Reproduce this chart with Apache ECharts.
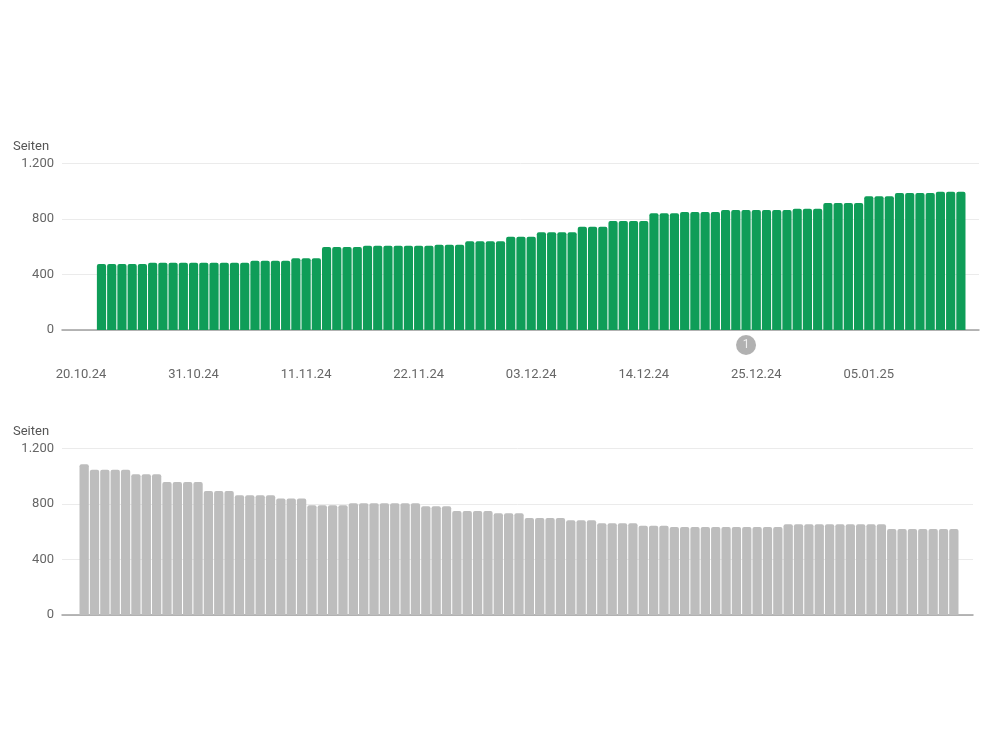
<!DOCTYPE html>
<html>
<head>
<meta charset="utf-8">
<script src="https://cdn.jsdelivr.net/npm/echarts@6/dist/echarts.min.js"></script>
<style>
  html, body { margin: 0; padding: 0; background: #fff; }
  #chart { width: 1000px; height: 750px; }
</style>
</head>
<body>
<div id="chart"></div>
<script>
// day offsets are counted from 20.10.24
const tickDays = [0, 11, 22, 33, 44, 55, 66, 77]
const tickLabels = ['20.10.24', '31.10.24', '11.11.24', '22.11.24', '03.12.24', '14.12.24', '25.12.24', '05.01.25']
const firstBarDay = 2 // 22.10.24
const axisTitle = 'Seiten'

// indexed pages (green)
const indexedPages = [
  475, 475, 475, 475, 475,
  485, 485, 485, 485, 485, 485, 485, 485, 485, 485,
  499, 499, 499, 499,
  516, 516, 516,
  598, 598, 598, 598,
  607, 607, 607, 607, 607, 607, 607,
  614, 614, 614,
  638, 638, 638, 638,
  672, 672, 672,
  703, 703, 703, 703,
  744, 744, 744,
  785, 785, 785, 785,
  840, 840, 840,
  849, 849, 849, 849,
  864, 864, 864, 864, 864, 864, 864,
  873, 873, 873,
  914, 914, 914, 914,
  962, 962, 962,
  986, 986, 986, 986,
  996, 996, 996
]

// not indexed pages (grey)
const notIndexedPages = [
  1085,
  1046, 1046, 1046, 1046,
  1013, 1013, 1013,
  957, 957, 957, 957,
  893, 893, 893,
  862, 862, 862, 862,
  838, 838, 838,
  790, 790, 790, 790,
  804, 804, 804, 804, 804, 804, 804,
  782, 782, 782,
  749, 749, 749, 749,
  732, 732, 732,
  698, 698, 698, 698,
  682, 682, 682,
  660, 660, 660, 660,
  643, 643, 643,
  634, 634, 634, 634, 634, 634, 634, 634, 634, 634, 634,
  653, 653, 653, 653, 653, 653, 653, 653, 653, 653,
  619, 619, 619, 619, 619, 619, 619
]

// annotation marker below the top axis
const markerDays = [65]
const markerLabels = ['1']

const fmt = v => String(v).replace(/\B(?=(\d{3})+(?!\d))/g, '.')
const toPoints = arr => arr.map((v, i) => [firstBarDay + i, v])

const titleStyle = { color: '#555', fontSize: 13, fontWeight: 'normal', fontFamily: 'Roboto' }

const yAxisBase = (gridIndex) => ({
  type: 'value',
  gridIndex: gridIndex,
  min: 0,
  max: 1200,
  interval: 400,
  axisLine: { show: false },
  axisTick: { show: false },
  axisLabel: {
    color: '#666',
    fontSize: 13,
    fontFamily: 'Roboto',
    margin: 8,
    formatter: fmt
  },
  splitLine: { lineStyle: { color: '#ebebeb', width: 1 } }
})

const chart = echarts.init(document.getElementById('chart'))
chart.setOption({
  animation: false,
  title: [
    { text: axisTitle, left: 13, top: 140, padding: 0, textStyle: titleStyle },
    { text: axisTitle, left: 13, top: 425, padding: 0, textStyle: titleStyle }
  ],
  grid: [
    { left: 62, right: 21, top: 163.3, height: 166.7 },
    { left: 62, right: 27, top: 448.3, height: 166.7 }
  ],
  xAxis: [
    {
      type: 'value',
      gridIndex: 0,
      min: -1.86,
      max: 87.77,
      axisLine: { lineStyle: { color: '#a0a0a0', width: 1.5 } },
      axisTick: { show: false },
      splitLine: { show: false },
      axisLabel: {
        customValues: tickDays,
        color: '#666',
        fontSize: 13,
        fontFamily: 'Roboto',
        margin: 38,
        formatter: v => tickLabels[tickDays.indexOf(v)] || ''
      }
    },
    {
      type: 'value',
      gridIndex: 1,
      min: -0.14,
      max: 87.85,
      axisLine: { lineStyle: { color: '#a0a0a0', width: 1.5 } },
      axisTick: { show: false },
      splitLine: { show: false },
      axisLabel: { show: false }
    }
  ],
  yAxis: [yAxisBase(0), yAxisBase(1)],
  series: [
    {
      type: 'bar',
      xAxisIndex: 0,
      yAxisIndex: 0,
      barWidth: 9.2,
      data: toPoints(indexedPages),
      itemStyle: { color: '#0f9d58', borderRadius: [2, 2, 0, 0] }
    },
    {
      type: 'bar',
      xAxisIndex: 1,
      yAxisIndex: 1,
      barWidth: 9.3,
      data: toPoints(notIndexedPages),
      itemStyle: { color: '#bdbdbd', borderRadius: [2, 2, 0, 0] }
    },
    {
      type: 'scatter',
      xAxisIndex: 0,
      yAxisIndex: 0,
      clip: false,
      symbol: 'circle',
      symbolSize: 20,
      data: markerDays.map((d, i) => ({ value: [d, -108], name: markerLabels[i] })),
      itemStyle: { color: '#9e9e9e' },
      label: {
        show: true,
        position: 'inside',
        formatter: p => p.name,
        color: '#fff',
        fontSize: 12,
        fontFamily: 'Roboto'
      }
    }
  ]
})
</script>
</body>
</html>
